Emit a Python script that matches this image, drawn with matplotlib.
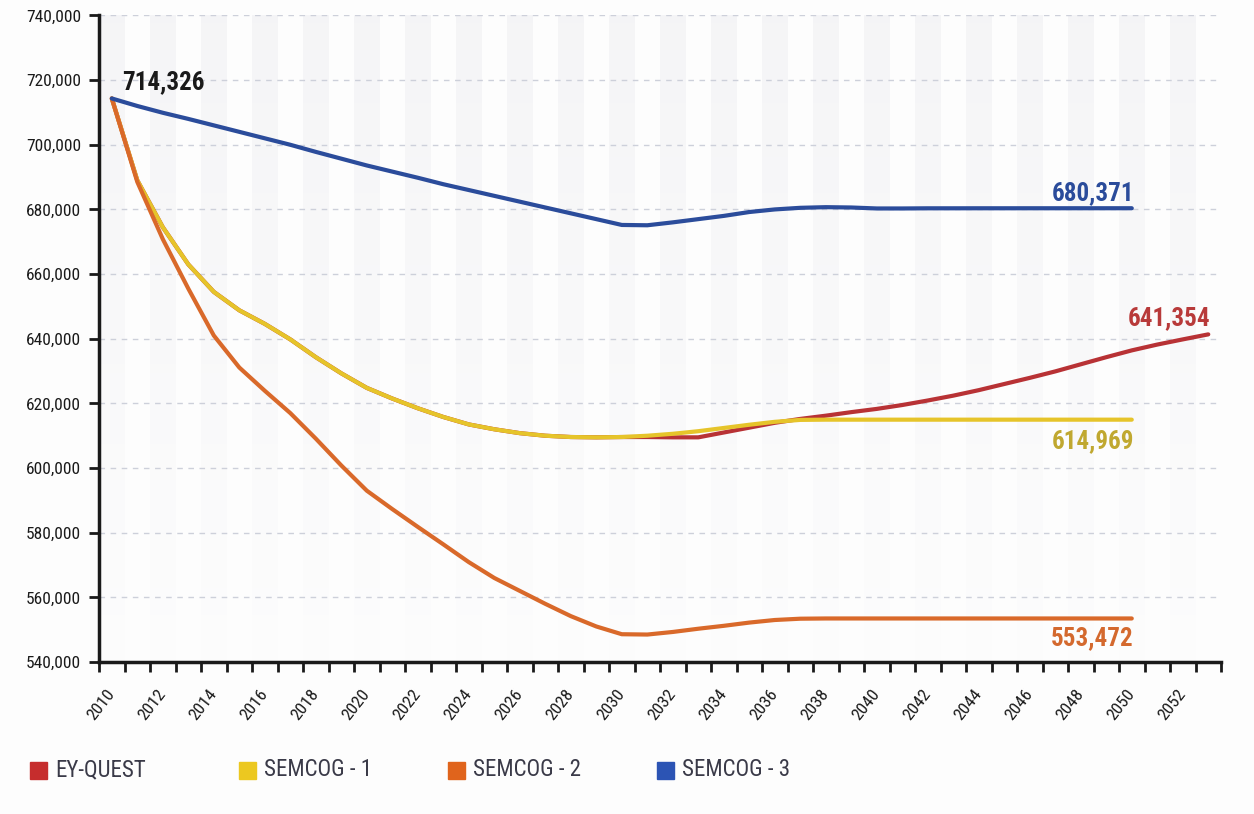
import matplotlib
matplotlib.use('Agg')
import matplotlib.pyplot as plt
import numpy as np
from matplotlib.ticker import FuncFormatter, MultipleLocator, FixedLocator

plt.rcParams['font.family'] = ['Roboto Condensed', 'Liberation Sans Narrow', 'DejaVu Sans']

years = list(range(2010, 2054))

ey_quest = [714326, 689000, 674500, 663000, 654500, 648800, 644600, 639800, 634300, 629300,
            624800, 621500, 618500, 615800, 613500, 612000, 610800, 610000, 609600, 609500,
            609600, 609600, 609500, 609500, 611000, 612500, 614000, 615200, 616200, 617300,
            618300, 619500, 620900, 622400, 624100, 626000, 627900, 629900, 632100, 634300,
            636400, 638200, 639800, 641354]

semcog1 = [714326, 689000, 674500, 663000, 654500, 648800, 644600, 639800, 634300, 629300,
           624800, 621500, 618500, 615800, 613500, 612000, 610800, 610000, 609600, 609500,
           609600, 610000, 610600, 611400, 612400, 613400, 614300, 614900, 614969, 614969,
           614969, 614969, 614969, 614969, 614969, 614969, 614969, 614969, 614969, 614969,
           614969]

semcog2 = [714326, 688500, 670800, 655500, 641000, 631100, 623900, 617000, 609100, 600800,
           593000, 587300, 581800, 576400, 570900, 566000, 562000, 558000, 554200, 551000,
           548600, 548500, 549300, 550300, 551200, 552200, 553000, 553400, 553472, 553472,
           553472, 553472, 553472, 553472, 553472, 553472, 553472, 553472, 553472, 553472,
           553472]

semcog3 = [714326, 712000, 709900, 708000, 706000, 704000, 702000, 700000, 697800, 695700,
           693600, 691700, 689800, 687800, 686000, 684200, 682400, 680600, 678800, 677000,
           675200, 675100, 676000, 677000, 678000, 679200, 680000, 680500, 680700, 680600,
           680300, 680300, 680350, 680350, 680360, 680360, 680365, 680365, 680370, 680370,
           680371]

names = ['EY-QUEST', 'SEMCOG - 1', 'SEMCOG - 2', 'SEMCOG - 3']
line_colors = ['#b83235', '#e6c42a', '#d9692a', '#2b4c9b']
box_colors = ['#c62d2d', '#ecc820', '#e0641c', '#2c54b4']
label_colors = ['#b83a3a', '#c0a830', '#d4692e', '#2b4c9b']

fig = plt.figure(figsize=(12.54, 8.14), dpi=100, facecolor='#fdfdfd')
ax = fig.add_axes([0.079, 0.1867, 0.8947, 0.7943])
ax.set_facecolor('none')

ymin, ymax = 540000, 740000
ax.set_xlim(2009.5, 2053.5)
ax.set_ylim(ymin, ymax)

# faint vertical stripes fading toward the bottom
grad = np.zeros((100, 1, 4))
grad[..., :3] = np.array([0.89, 0.89, 0.91])
grad[:, 0, 3] = np.linspace(0.30, 0.02, 100)
for yr in years:
    if yr % 2 == 0:
        ax.imshow(grad, extent=[yr - 0.5, yr + 0.5, ymin, ymax], aspect='auto',
                  origin='upper', zorder=0, interpolation='bilinear')

for yv in range(560000, 740001, 20000):
    ax.axhline(yv, color='#cdd0da', lw=1, ls=(0, (4, 4)), zorder=1)

series = [ey_quest, semcog1, semcog2, semcog3]
for vals, c in zip(series, line_colors):
    ax.plot(years[:len(vals)], vals, color=c, lw=3, zorder=3, solid_capstyle='round')

# value labels
ax.annotate('714,326', (years[0], semcog3[0]), xytext=(10, 16), textcoords='offset pixels',
            ha='left', va='center', fontsize=18, fontweight='bold', color='#1a1a1a')
ax.annotate('680,371', (years[len(semcog3) - 1], semcog3[-1]), xytext=(2, 15), textcoords='offset pixels',
            ha='right', va='center', fontsize=18, fontweight='bold', color=label_colors[3])
ax.annotate('641,354', (years[len(ey_quest) - 1], ey_quest[-1]), xytext=(2, 16), textcoords='offset pixels',
            ha='right', va='center', fontsize=18, fontweight='bold', color=label_colors[0])
ax.annotate('614,969', (years[len(semcog1) - 1], semcog1[-1]), xytext=(2, -22), textcoords='offset pixels',
            ha='right', va='center', fontsize=18, fontweight='bold', color=label_colors[1])
ax.annotate('553,472', (years[len(semcog2) - 1], semcog2[-1]), xytext=(2, -20), textcoords='offset pixels',
            ha='right', va='center', fontsize=18, fontweight='bold', color=label_colors[2])

for s in ['top', 'right']:
    ax.spines[s].set_visible(False)
for s in ['left', 'bottom']:
    ax.spines[s].set_linewidth(2.5)
    ax.spines[s].set_color('#1a1a1a')

ax.yaxis.set_major_locator(MultipleLocator(20000))
ax.yaxis.set_major_formatter(FuncFormatter(lambda v, p: f'{int(v):,}'))
ax.tick_params(axis='y', length=7, width=2, colors='#1a1a1a', labelsize=12.5, pad=6)

ax.xaxis.set_major_locator(FixedLocator(years[::2]))
ax.xaxis.set_minor_locator(FixedLocator([y - 0.5 for y in years] + [years[-1] + 0.5]))
ax.tick_params(axis='x', which='major', length=0, labelsize=12.5, pad=21, colors='#1a1a1a')
ax.tick_params(axis='x', which='minor', length=7, width=2, color='#1a1a1a')
for lab in ax.get_xticklabels():
    lab.set_rotation(52)
    lab.set_ha('right')
    lab.set_va('center')
    lab.set_rotation_mode('anchor')

# legend along the bottom
for i, (n, c) in enumerate(zip(names, box_colors)):
    x0 = 30 + 209 * i
    fig.patches.append(plt.Rectangle((x0 / 1254, 1 - 779 / 814), 17 / 1254, 17 / 814,
                                     transform=fig.transFigure, color=c, figure=fig))
    fig.text((x0 + 25) / 1254, 1 - 770 / 814, n, ha='left', va='center', fontsize=16.5, color='#3a3a48')

fig.savefig('out.png', dpi=100, facecolor=fig.get_facecolor())
